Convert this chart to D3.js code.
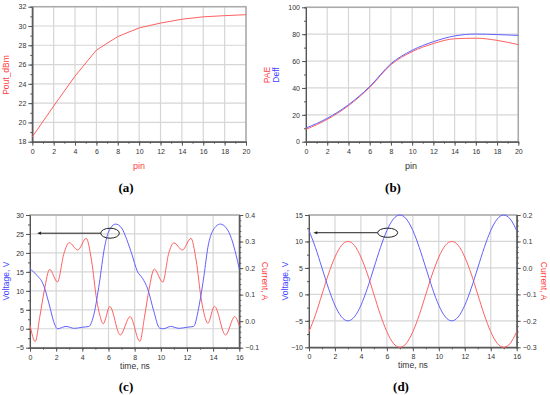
<!DOCTYPE html>
<html>
<head>
<meta charset="utf-8">
<script src="https://cdn.jsdelivr.net/npm/d3@7"></script>
<style>
body { margin: 0; background: #fff; }
</style>
</head>
<body>
<div id="chart"></div>
<script>
// (a) and (b): sweep over input power
var pinVals = [0, 2, 4, 6, 8, 10, 12, 14, 16, 18, 20];
var poutDbm = [18.5, 21.7, 24.8, 27.5, 28.9, 29.8, 30.3, 30.7, 30.95, 31.07, 31.17];
var paeVals = [9.2, 16.6, 26.8, 40.4, 57.3, 67, 73, 76.6, 77, 75.4, 72.2];
var deffVals = [10.2, 17.4, 27.5, 41, 58, 68, 74.4, 78.7, 80.1, 79.7, 79.1];

// (c): time-domain waveforms
var tVoltC = [0, 0.5, 1, 1.5, 1.8, 2.1, 2.75, 3.4, 4, 4.5, 4.9, 5.3, 5.7, 6, 6.55, 7, 7.4, 7.8, 8.2, 8.6, 9, 9.45, 9.9, 10.2, 10.75, 11.4, 12, 12.5, 12.95, 13.3, 13.6, 14, 14.55, 15, 15.4, 15.75, 16];
var voltC = [15.8, 14.2, 11.8, 6, 2, 0, 0.6, 0.1, 0.4, 0.6, 4, 12, 21.5, 25.5, 27.6, 26.6, 23.5, 19.5, 15.2, 13.3, 10.5, 4.8, 0.2, 0, 0.6, 0.1, 0.4, 0.6, 6.5, 14, 21.5, 26, 27.6, 26.6, 23.8, 19.5, 15.8];
var tCurrC = [0, 0.4, 0.75, 1.1, 1.5, 2.1, 2.6, 3.0, 3.65, 4.3, 4.7, 5.1, 5.35, 5.6, 6.1, 6.9, 7.65, 8.4, 8.75, 9.1, 9.5, 10.15, 10.6, 11.0, 11.65, 12.3, 12.7, 13.1, 13.35, 13.6, 14.1, 14.95, 15.65, 16];
var currC = [-0.014, -0.077, 0.017, 0.117, 0.195, 0.148, 0.256, 0.296, 0.268, 0.312, 0.23, 0.08, 0.02, -0.01, 0.055, -0.052, 0.017, -0.076, 0.015, 0.12, 0.196, 0.147, 0.255, 0.295, 0.268, 0.312, 0.23, 0.08, 0.02, -0.008, 0.056, -0.052, 0.017, -0.018];

// (d): time-domain waveforms
var tD = [0, 0.5, 1, 1.5, 2, 2.5, 3, 3.5, 4, 4.5, 5, 5.5, 6, 6.5, 7, 7.5, 8, 8.5, 9, 9.5, 10, 10.5, 11, 11.5, 12, 12.5, 13, 13.5, 14, 14.5, 15, 15.5, 16];
var voltD = [12.07, 8.83, 5, 1.17, -2.07, -4.24, -5, -4.24, -2.07, 1.17, 5, 8.83, 12.07, 14.24, 15, 14.24, 12.07, 8.83, 5, 1.17, -2.07, -4.24, -5, -4.24, -2.07, 1.17, 5, 8.83, 12.07, 14.24, 15, 14.24, 12.07];
var currD = [-0.241, -0.177, -0.1, -0.023, 0.041, 0.085, 0.1, 0.085, 0.041, -0.023, -0.1, -0.177, -0.241, -0.285, -0.3, -0.285, -0.241, -0.177, -0.1, -0.023, 0.041, 0.085, 0.1, 0.085, 0.041, -0.023, -0.1, -0.177, -0.241, -0.285, -0.3, -0.285, -0.241];

// tick values
var pinTicks = d3.range(0, 21, 2), pinMinor = d3.range(0, 21, 1);
var timeTicks = d3.range(0, 17, 2), timeMinor = d3.range(0, 17, 1);

var RED = "#ff6060", BLUE = "#6060ff";

var svg = d3.select("#chart").append("svg")
    .attr("width", 550).attr("height", 395)
    .style("font-family", "Liberation Sans, Arial, sans-serif");

function axisStyle(sel) {
    sel.selectAll("path.domain").attr("stroke", "#555");
    sel.selectAll(".tick line").attr("stroke", "#555");
    sel.selectAll(".tick text").attr("fill", "#333").style("font-size", "7px");
}

function frame(x, y, o) {
    var g = svg.append("g");
    var xr = x.range(), yr = y.range();
    g.append("g").selectAll("line").data(o.xMaj).join("line")
        .attr("x1", function(d){ return x(d); }).attr("x2", function(d){ return x(d); })
        .attr("y1", yr[0]).attr("y2", yr[1])
        .attr("stroke", "#d6d6d6").attr("stroke-width", 1.2);
    g.append("g").selectAll("line").data(o.yMaj).join("line")
        .attr("y1", function(d){ return y(d); }).attr("y2", function(d){ return y(d); })
        .attr("x1", xr[0]).attr("x2", xr[1])
        .attr("stroke", "#d6d6d6").attr("stroke-width", 1.2);
    g.append("rect").attr("x", xr[0]).attr("y", yr[1])
        .attr("width", xr[1] - xr[0]).attr("height", yr[0] - yr[1])
        .attr("fill", "none").attr("stroke", "#aaa").attr("stroke-width", 1.5);

    g.append("g").attr("transform", "translate(0," + yr[0] + ")")
        .call(d3.axisBottom(x).tickValues(o.xMin).tickSize(2).tickSizeOuter(0).tickFormat(""))
        .call(axisStyle);
    g.append("g").attr("transform", "translate(0," + yr[0] + ")")
        .call(d3.axisBottom(x).tickValues(o.xMaj).tickSize(4).tickSizeOuter(0).tickPadding(3).tickFormat(d3.format("d")))
        .call(axisStyle);
    g.append("g").attr("transform", "translate(" + xr[0] + ",0)")
        .call(d3.axisLeft(y).tickValues(o.yMin).tickSize(2).tickSizeOuter(0).tickFormat(""))
        .call(axisStyle);
    g.append("g").attr("transform", "translate(" + xr[0] + ",0)")
        .call(d3.axisLeft(y).tickValues(o.yMaj).tickSize(4).tickSizeOuter(0).tickPadding(2).tickFormat(d3.format("d")))
        .call(axisStyle);
    if (o.yR) {
        g.append("g").attr("transform", "translate(" + xr[1] + ",0)")
            .call(d3.axisRight(o.yR).tickValues(o.yRMin).tickSize(2).tickSizeOuter(0).tickFormat(""))
            .call(axisStyle);
        g.append("g").attr("transform", "translate(" + xr[1] + ",0)")
            .call(d3.axisRight(o.yR).tickValues(o.yRMaj).tickSize(4).tickSizeOuter(0).tickPadding(2).tickFormat(d3.format(".1f")))
            .call(axisStyle);
    }
    return g;
}

function drawLine(xs, ys, x, y, color, curve) {
    var pts = xs.map(function(d, i){ return [d, ys[i]]; });
    svg.append("path").datum(pts)
        .attr("fill", "none").attr("stroke", color).attr("stroke-width", 1)
        .attr("d", d3.line().x(function(d){ return x(d[0]); }).y(function(d){ return y(d[1]); }).curve(curve || d3.curveLinear));
}

function label(txt, x, y, color, size, rot, weight, family) {
    var t = svg.append("text").text(txt)
        .attr("text-anchor", "middle")
        .attr("fill", color).style("font-size", size + "px");
    if (weight) t.style("font-weight", weight);
    if (family) t.style("font-family", family);
    if (rot) t.attr("transform", "translate(" + x + "," + y + ") rotate(" + rot + ")");
    else t.attr("x", x).attr("y", y);
    return t;
}

function marker(x, y, tEll, vEll, tTip, rx, ry) {
    var cx = x(tEll), cy = y(vEll);
    svg.append("line").attr("x1", cx - rx).attr("y1", cy).attr("x2", x(tTip) + 3).attr("y2", cy)
        .attr("stroke", "#222").attr("stroke-width", 1);
    svg.append("path")
        .attr("d", "M" + x(tTip) + "," + cy + "l4,-1.6l0,3.2z").attr("fill", "#222");
    svg.append("ellipse").attr("cx", cx).attr("cy", cy).attr("rx", rx).attr("ry", ry)
        .attr("fill", "none").attr("stroke", "#222").attr("stroke-width", 1);
}

var serif = "Liberation Serif, Times New Roman, serif";

// ---- (a)
var xa = d3.scaleLinear().domain([0, 20]).range([32.3, 246]);
var ya = d3.scaleLinear().domain([18, 32]).range([141.7, 6.7]);
frame(xa, ya, {xMaj: pinTicks, xMin: pinMinor, yMaj: d3.range(18, 33, 2), yMin: d3.range(18, 33, 1)});
drawLine(pinVals, poutDbm, xa, ya, RED);
label("Pout_dBm", 9, 75, "#ff4040", 8.5, -90);
label("pin", 139, 169, "#ff4040", 9);
label("(a)", 126, 192, "#000", 13, 0, "bold", serif);

// ---- (b)
var xb = d3.scaleLinear().domain([0, 20]).range([306, 518.3]);
var yb = d3.scaleLinear().domain([0, 100]).range([141.7, 7.3]);
frame(xb, yb, {xMaj: pinTicks, xMin: pinMinor, yMaj: d3.range(0, 101, 20), yMin: d3.range(0, 101, 10)});
drawLine(pinVals, paeVals, xb, yb, RED, d3.curveMonotoneX);
drawLine(pinVals, deffVals, xb, yb, BLUE, d3.curveMonotoneX);
label("PAE", 270, 75, "#ff4040", 8.5, -90);
label("Deff", 279, 75, "#4040ff", 8.5, -90);
label("pin", 411, 169, "#333", 9);
label("(b)", 393, 192, "#000", 13, 0, "bold", serif);

// ---- (c)
var xc = d3.scaleLinear().domain([0, 16]).range([30, 239.3]);
var yc = d3.scaleLinear().domain([-5, 30]).range([347.7, 215]);
var ycR = d3.scaleLinear().domain([-0.1, 0.4]).range([347.7, 215]);
frame(xc, yc, {xMaj: timeTicks, xMin: timeMinor, yMaj: d3.range(-5, 31, 5), yMin: d3.range(-5, 31, 2.5),
    yR: ycR, yRMaj: d3.range(-0.1, 0.41, 0.1), yRMin: d3.range(-0.1, 0.41, 0.02)});
drawLine(tCurrC, currC, xc, ycR, RED, d3.curveMonotoneX);
drawLine(tVoltC, voltC, xc, yc, BLUE, d3.curveMonotoneX);
marker(xc, yc, 6.12, 25.2, 0.54, 9.3, 5);
label("Voltage, V", 9, 281, "#4040ff", 8.5, -90);
label("Current, A", 262, 281, "#ff4040", 8.5, 90);
label("time, ns", 135, 369, "#333", 8.5);
label("(c)", 126, 391, "#000", 13, 0, "bold", serif);

// ---- (d)
var xd = d3.scaleLinear().domain([0, 16]).range([309, 516.7]);
var yd = d3.scaleLinear().domain([-10, 15]).range([347.3, 215]);
var ydR = d3.scaleLinear().domain([-0.3, 0.2]).range([347.3, 215]);
frame(xd, yd, {xMaj: timeTicks, xMin: timeMinor, yMaj: d3.range(-10, 16, 5), yMin: d3.range(-10, 16, 2.5),
    yR: ydR, yRMaj: d3.range(-0.3, 0.21, 0.1), yRMin: d3.range(-0.3, 0.21, 0.02)});
drawLine(tD, currD, xd, ydR, RED, d3.curveMonotoneX);
drawLine(tD, voltD, xd, yd, BLUE, d3.curveMonotoneX);
marker(xd, yd, 6.06, 11.65, 0.33, 10, 4.6);
label("Voltage, V", 288, 281, "#4040ff", 8.5, -90);
label("Current, A", 541, 281, "#ff4040", 8.5, 90);
label("time, ns", 413, 368, "#333", 8.5);
label("(d)", 401, 391, "#000", 13, 0, "bold", serif);
</script>
</body>
</html>
